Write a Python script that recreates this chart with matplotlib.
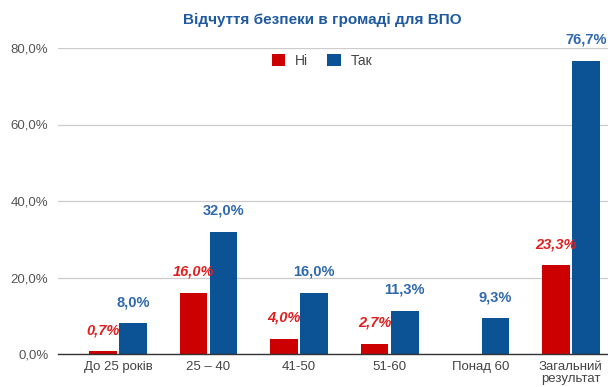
import numpy as np
import matplotlib.pyplot as plt

plt.rcParams['font.family'] = ['Liberation Sans', 'DejaVu Sans']

categories = ["До 25 років", "25 – 40", "41-50", "51-60", "Понад 60", "Загальний\nрезультат"]
ni = [0.7, 16.0, 4.0, 2.7, np.nan, 23.3]
tak = [8.0, 32.0, 16.0, 11.3, 9.3, 76.7]
yticks = [0, 20, 40, 60, 80]

red = "#cc0000"
blue = "#0b5394"
red_txt = "#e02020"
blue_txt = "#2f68ad"


def fmt(v):
    return f"{v:.1f}%".replace(".", ",")


fig = plt.figure(figsize=(6.08, 3.87), dpi=100)
ax = fig.add_axes([58 / 608, 33 / 387, 1 - 58 / 608, 306 / 387])

x = np.arange(len(categories))
w = 0.304
off = 0.166
ax.bar(x - off, np.nan_to_num(ni), w, color=red, label="Ні", zorder=3)
ax.bar(x + off, tak, w, color=blue, label="Так", zorder=3)

for xi, v in zip(x, ni):
    if not np.isnan(v):
        ax.annotate(fmt(v), (xi - off, v), xytext=(0, 15), textcoords="offset points",
                    ha="center", va="center", color=red_txt, fontsize=10.5,
                    fontweight="bold", fontstyle="italic", annotation_clip=False)
for xi, v in zip(x, tak):
    ax.annotate(fmt(v), (xi + off, v), xytext=(0, 15), textcoords="offset points",
                ha="center", va="center", color=blue_txt, fontsize=10.5,
                fontweight="bold", annotation_clip=False)

ax.set_xlim(-0.662, 5.41)
ax.set_ylim(0, 80)
ax.set_yticks(yticks)
ax.set_yticklabels([fmt(v) for v in yticks], fontsize=9.5, color="#555555")
ax.set_xticks(x)
ax.set_xticklabels(categories, fontsize=9.5, color="#444444", linespacing=1.0, va="top")
ax.tick_params(axis="both", length=0)
ax.tick_params(axis="y", pad=7)
ax.tick_params(axis="x", pad=5)
ax.grid(axis="y", color="#cccccc", linewidth=0.9, zorder=0)
for s in ["top", "right", "left"]:
    ax.spines[s].set_visible(False)
ax.spines["bottom"].set_color("#333333")
ax.spines["bottom"].set_linewidth(1.0)
ax.spines["bottom"].set_zorder(4)

ax.legend(loc="center", bbox_to_anchor=(322 / 608, 1 - 61 / 387), bbox_transform=fig.transFigure,
          ncol=2, frameon=False, fontsize=10, handlelength=0.95, handleheight=0.95,
          handletextpad=0.7, columnspacing=1.4, labelcolor="#444444")

fig.text(322 / 608, 1 - 20 / 387, "Відчуття безпеки в громаді для ВПО", ha="center", va="center",
         fontsize=11, fontweight="bold", color="#1f5aa0")

fig.savefig("out.png", dpi=100)
